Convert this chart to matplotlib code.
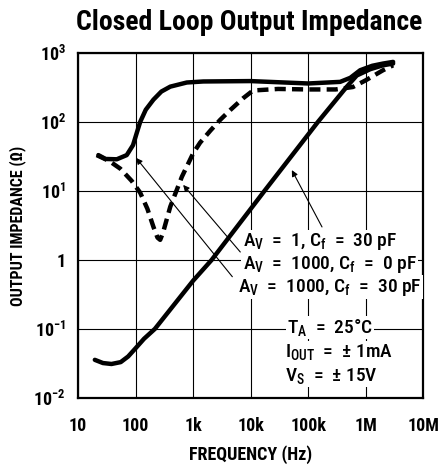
import matplotlib
matplotlib.use('Agg')
from matplotlib import pyplot as plt
from matplotlib import font_manager

# narrow font, like the condensed Helvetica of the datasheet
have = {f.name for f in font_manager.fontManager.ttflist}
narrow = 'DejaVu Sans'
for name in ['Roboto Condensed', 'Liberation Sans Narrow', 'Archivo Narrow', 'PT Sans Narrow']:
    if name in have:
        narrow = name
        break

plt.rcParams['font.family'] = [narrow, 'DejaVu Sans']
plt.rcParams['mathtext.fontset'] = 'custom'
plt.rcParams['mathtext.rm'] = narrow + ':medium'
plt.rcParams['mathtext.it'] = narrow + ':medium'
plt.rcParams['mathtext.bf'] = narrow + ':bold'

# Av = 1, Cf = 30 pF  (solid, rising straight line)
f_av1 = [19.5, 27, 38, 55, 74, 100, 140, 216, 1000, 2100, 17400, 148000, 470000, 700000, 1200000, 2000000, 3000000]
z_av1 = [0.0356, 0.032, 0.031, 0.033, 0.0398, 0.0525, 0.072, 0.1, 0.5, 1.0, 10, 100, 324, 470, 580, 660, 700]

# Av = 1000, Cf = 0 pF  (dashed)
f_cf0 = [21, 35, 54, 85, 120, 160, 204, 240, 267, 300, 400, 636, 1000, 1320, 2000, 2950, 4400, 7400, 11000, 30000, 100000, 300000, 600000, 1000000, 2000000, 3000000]
z_cf0 = [33, 27, 21, 14, 9.4, 5.5, 3.0, 2.1, 1.95, 2.5, 5.9, 16, 35, 50, 75, 107, 148, 220, 285, 300, 295, 295, 320, 400, 560, 660]

# Av = 1000, Cf = 30 pF  (solid, with bump)
f_cf30 = [22.5, 30, 47, 70, 90, 105, 120, 150, 204, 280, 400, 775, 1500, 10000, 100000, 360000, 540000, 800000, 1300000, 2000000, 3000000]
z_cf30 = [33, 29, 28.7, 33, 46, 70, 100, 150, 210, 275, 324, 372, 385, 390, 360, 380, 435, 560, 650, 700, 740]

xticks = [10, 100, 1e3, 1e4, 1e5, 1e6, 1e7]
xlabels = ['10', '100', '1k', '10k', '100k', '1M', '10M']
yticks = [1e-2, 1e-1, 1, 10, 100, 1000]
ylabels = [r'$\mathbf{10^{-2}}$', r'$\mathbf{10^{-1}}$', '1', r'$\mathbf{10^{1}}$',
           r'$\mathbf{10^{2}}$', r'$\mathbf{10^{3}}$']

fig = plt.figure(figsize=(4.39, 4.72), dpi=100)
ax = fig.add_axes([0.178, 0.157, 0.786, 0.731])
ax.set_xscale('log')
ax.set_yscale('log')
ax.set_xlim(10, 1e7)
ax.set_ylim(1e-2, 1e3)

ax.grid(True, which='major', color='black', linewidth=0.8)
ax.minorticks_off()
for s in ax.spines.values():
    s.set_linewidth(1.6)

ax.plot(f_av1, z_av1, color='black', linewidth=3.2, solid_capstyle='round', zorder=3)
ax.plot(f_cf0, z_cf0, color='black', linewidth=3.2, linestyle=(0, (2.5, 1.4)), zorder=3)
ax.plot(f_cf30, z_cf30, color='black', linewidth=3.2, solid_capstyle='round', zorder=3)

ax.set_xticks(xticks)
ax.set_xticklabels(xlabels, fontweight='bold', fontsize=13)
ax.set_yticks(yticks)
ax.set_yticklabels(ylabels, fontweight='bold', fontsize=13)
ax.tick_params(axis='y', length=0, pad=9)
ax.tick_params(axis='x', length=0, pad=14)

ax.set_xlabel('FREQUENCY (Hz)', fontweight='bold', fontsize=13, labelpad=7)
ax.set_ylabel('OUTPUT IMPEDANCE (\u03a9)', fontweight='bold', fontsize=11.5, labelpad=5)
fig.text(0.567, 0.953, 'Closed Loop Output Impedance', ha='center', va='center',
         fontweight='heavy', fontsize=20)

box = dict(facecolor='white', edgecolor='none', pad=1)
lab = dict(fontsize=14, fontweight='medium', va='center', ha='left', bbox=box, zorder=4)
ax.text(7.3e3, 1.85, r'A$_\mathrm{V}$  =  1, C$_\mathrm{f}$  =  30 pF', **lab)
ax.text(7.3e3, 0.87, r'A$_\mathrm{V}$  =  1000, C$_\mathrm{f}$  =  0 pF', **lab)
ax.text(6.0e3, 0.4, r'A$_\mathrm{V}$  =  1000, C$_\mathrm{f}$  =  30 pF', **lab)
ax.text(4.3e4, 0.105, 'T$_\\mathrm{A}$  =  25\u00b0C', **lab)
ax.text(4.0e4, 0.046, r'I$_\mathrm{OUT}$  =  $\pm$ 1mA', **lab)
ax.text(4.0e4, 0.021, r'V$_\mathrm{S}$  =  $\pm$ 15V', **lab)

arrow = dict(arrowstyle='-|>', color='black', linewidth=0.8, mutation_scale=9,
             shrinkA=0, shrinkB=0)
ax.annotate('', xy=(5.2e4, 20), xytext=(1.74e5, 3.0), arrowprops=arrow, zorder=5)
ax.annotate('', xy=(670, 12.2), xytext=(6.6e3, 1.3), arrowprops=arrow, zorder=5)
ax.annotate('', xy=(102, 30), xytext=(4.8e3, 0.57), arrowprops=arrow, zorder=5)

fig.savefig('out.png', dpi=100)
